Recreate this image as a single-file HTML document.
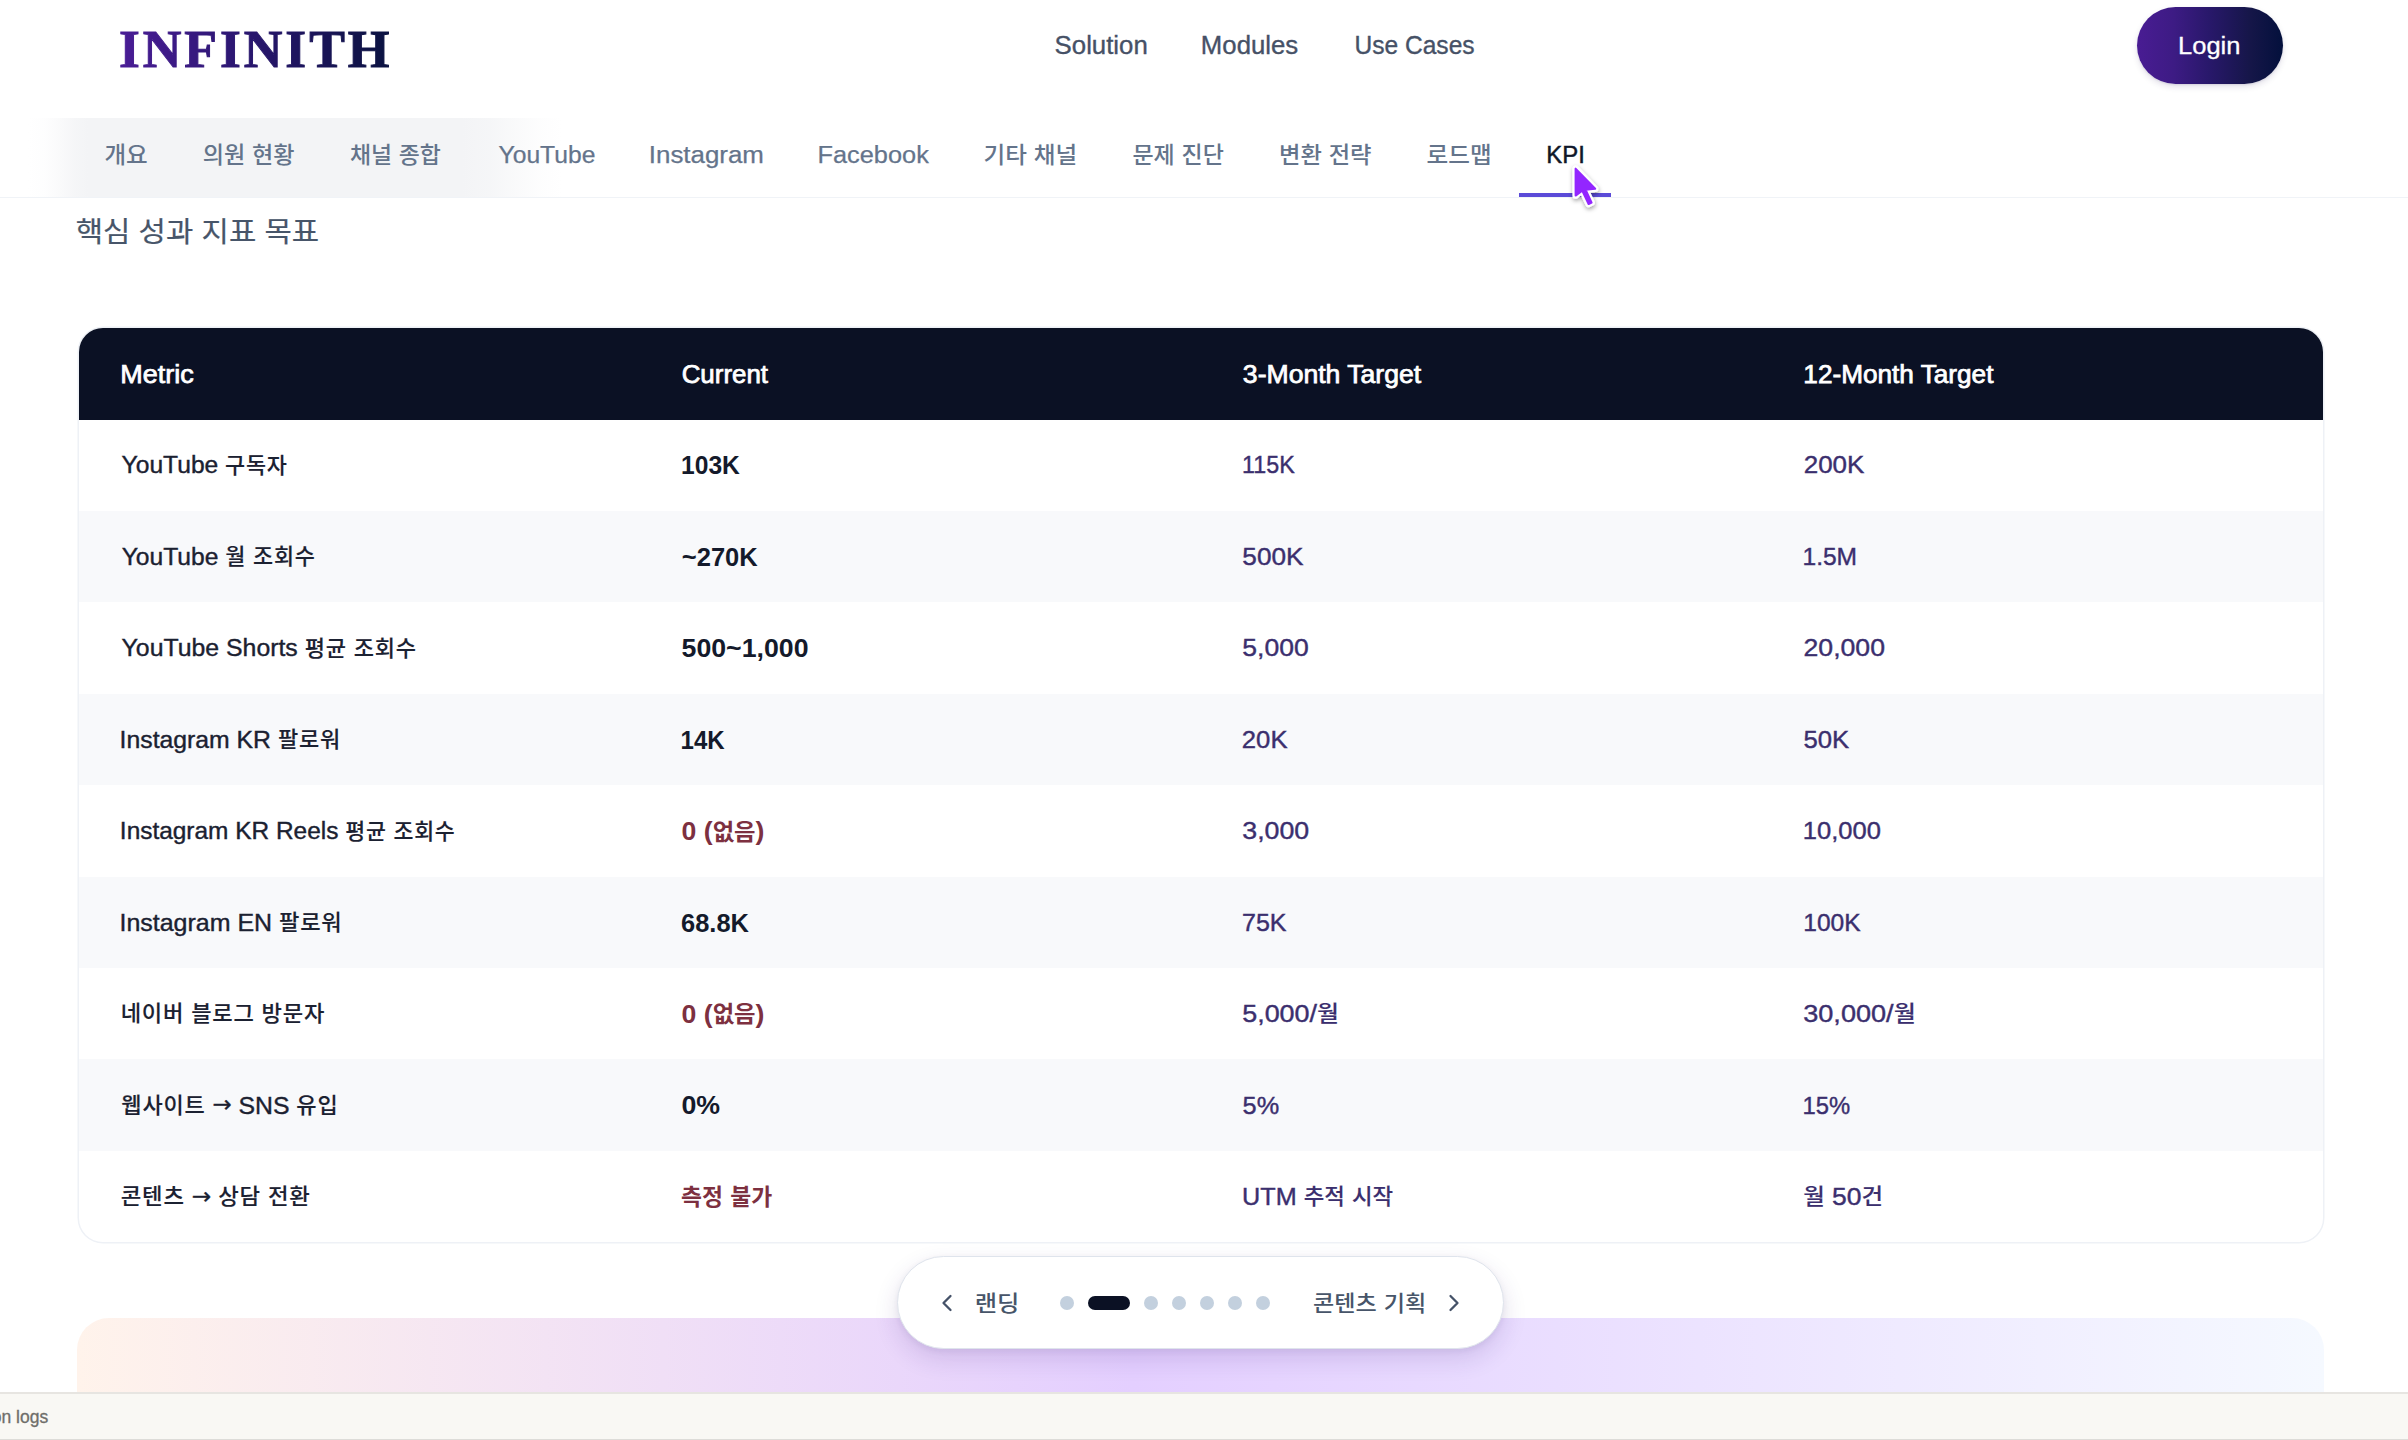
<!DOCTYPE html>
<html lang="ko">
<head>
<meta charset="utf-8">
<title>INFINITH – KPI</title>
<style>
*{margin:0;padding:0;box-sizing:border-box}
html,body{width:2408px;height:1440px;overflow:hidden;background:#fff}
body{position:relative;font-family:"Liberation Sans","Noto Sans CJK KR",sans-serif;-webkit-font-smoothing:antialiased}
.t{position:absolute;white-space:nowrap;display:block;transform-origin:0 50%}
.abs{position:absolute;display:block}
.logo{background:linear-gradient(90deg,#4a1d96 0%,#2a1670 45%,#0a1240 100%);-webkit-background-clip:text;background-clip:text;color:transparent !important;-webkit-text-fill-color:transparent}
.login-btn{left:2136.5px;top:6.5px;width:146px;height:77.5px;border-radius:39px;background:linear-gradient(90deg,#491c93 0%,#3d1b84 25%,#28186a 50%,#151648 78%,#03103c 100%);box-shadow:0 3px 6px rgba(30,20,80,.12),0 1px 2px rgba(30,20,80,.10)}
.tab-hl{left:28px;top:117.5px;width:534px;height:79.5px;background:linear-gradient(90deg,rgba(243,244,246,0) 0.00%,rgba(243,244,246,0.12) 3.18%,rgba(243,244,246,0.45) 5.99%,rgba(243,244,246,0.82) 8.80%,rgba(243,244,246,1) 11.24%,rgba(243,244,246,1) 81.27%,rgba(243,244,246,0.82) 86.52%,rgba(243,244,246,0.48) 91.20%,rgba(243,244,246,0.16) 95.88%,rgba(243,244,246,0) 100.00%)}
.tab-line{left:0;top:197px;width:2408px;height:1px;background:#f0f3f7}
.tab-active{left:1519.2px;top:192.6px;width:92.3px;height:4px;background:#5b4bd8}
.table{left:78.5px;top:328px;width:2244.5px;height:914px;border-radius:24px;overflow:hidden;background:#fff;box-shadow:0 0 0 1.5px #eef1f6}
.thead{left:0;top:0;width:100%;height:91.5px;background:#0b1124}
.stripe{left:0;width:100%;height:91.44px;background:#f8f9fb}
.gcard{left:77px;top:1317.5px;width:2247px;height:300px;border-radius:32px;background:linear-gradient(90deg,#fff3eb 0%,#e4cfff 47%,#f5f9ff 100%)}
.pill{left:897px;top:1256px;width:606.5px;height:93px;border-radius:47px;background:#fff;border:1.5px solid #dfe4ec;box-shadow:0 10px 24px rgba(60,30,120,.14),0 2px 6px rgba(30,30,60,.06)}
.dot{width:14px;height:14px;border-radius:7px;background:#c3d0de;top:1296px}
.dot.on{width:42px;background:#0b1124}
.bbar{left:0;top:1391.6px;width:2408px;height:48.4px;background:#f9f8f4;border-top:2px solid #e7e5e1;border-bottom:1.8px solid #dddcd8}
.arw{font-family:"DejaVu Sans","Liberation Sans",sans-serif;line-height:0;font-size:.92em;position:relative;top:-1.2px}
.grp{display:block;position:static;margin:0;padding:0;border:0;width:0;height:0}
a.t{text-decoration:none}
h2.t{margin:0}
</style>
</head>
<body>
<div class="abs login-btn"></div>
<div class="abs tab-hl"></div>
<div class="abs tab-line"></div>
<div class="abs tab-active"></div>
<div class="abs table">
<div class="abs thead"></div>
<div class="abs stripe" style="top:182.7px"></div>
<div class="abs stripe" style="top:365.6px"></div>
<div class="abs stripe" style="top:548.5px"></div>
<div class="abs stripe" style="top:731.4px"></div>
</div>
<div class="abs gcard"></div>
<div class="abs pill"></div>
<div class="abs dot" style="left:1060px"></div>
<div class="abs dot on" style="left:1088px"></div>
<div class="abs dot" style="left:1144px"></div>
<div class="abs dot" style="left:1172px"></div>
<div class="abs dot" style="left:1200px"></div>
<div class="abs dot" style="left:1228px"></div>
<div class="abs dot" style="left:1256px"></div>
<svg class="abs" style="left:937.35px;top:1290.9px" width="20" height="24" viewBox="0 0 20 24"><path d="M13.5 5 L6.5 12 L13.5 19" fill="none" stroke="#455268" stroke-width="2.3" stroke-linecap="round" stroke-linejoin="round"/></svg>
<svg class="abs" style="left:1444px;top:1290.9px" width="20" height="24" viewBox="0 0 20 24"><path d="M6.5 5 L13.5 12 L6.5 19" fill="none" stroke="#455268" stroke-width="2.3" stroke-linecap="round" stroke-linejoin="round"/></svg>
<div class="abs bbar"></div>
<header class="grp">
<a class="t logo" id="logo" style='left:118.89px;top:11.71px;font-size:53.5px;line-height:74.9px;font-weight:700;color:#3b1a8a;letter-spacing:2.978px;font-family:"Liberation Serif","Noto Serif CJK KR",serif;-webkit-text-stroke:1.0px transparent;'>INFINITH</a>
<nav class="grp">
<a class="t" id="nav1" style='left:1054.00px;top:28.02px;font-size:25.3px;line-height:35.42px;font-weight:400;color:#465166;letter-spacing:0.000px;font-family:"Liberation Sans","Noto Sans CJK KR",sans-serif;-webkit-text-stroke:0.35px #465166;transform:translateX(0.61px) scaleX(1.0187);'>Solution</a>
<a class="t" id="nav2" style='left:1200.00px;top:28.02px;font-size:25.3px;line-height:35.42px;font-weight:400;color:#465166;letter-spacing:0.000px;font-family:"Liberation Sans","Noto Sans CJK KR",sans-serif;-webkit-text-stroke:0.35px #465166;transform:translateX(0.86px) scaleX(1.0179);'>Modules</a>
<a class="t" id="nav3" style='left:1354.00px;top:28.02px;font-size:25.3px;line-height:35.42px;font-weight:400;color:#465166;letter-spacing:0.000px;font-family:"Liberation Sans","Noto Sans CJK KR",sans-serif;-webkit-text-stroke:0.35px #465166;transform:translateX(0.49px) scaleX(0.9707);'>Use Cases</a>
</nav>
<span class="t" id="login" role="button" style='left:2178.00px;top:28.65px;font-size:24.8px;line-height:34.72px;font-weight:400;color:#ffffff;letter-spacing:0.000px;font-family:"Liberation Sans","Noto Sans CJK KR",sans-serif;-webkit-text-stroke:0.3px #ffffff;transform:translateX(0.06px) scaleX(1.0284);'>Login</span>
</header>
<nav class="grp" role="tablist">
<a class="t" id="tab0" role="tab" style='left:104.00px;top:138.71px;font-size:23.5px;line-height:32.9px;font-weight:400;color:#64748b;letter-spacing:0.000px;font-family:"Liberation Sans","Noto Sans CJK KR",sans-serif;-webkit-text-stroke:0.25px #64748b;transform:translateX(0.40px) scaleX(1.0509);'><span style="font-size:22.4px;line-height:0;font-weight:500;-webkit-text-stroke-width:0px;position:relative;top:0.1px;">개요</span></a>
<a class="t" id="tab1" role="tab" style='left:202.00px;top:138.71px;font-size:23.5px;line-height:32.9px;font-weight:400;color:#64748b;letter-spacing:0.000px;font-family:"Liberation Sans","Noto Sans CJK KR",sans-serif;-webkit-text-stroke:0.25px #64748b;transform:translateX(0.64px) scaleX(1.0334);'><span style="font-size:22.4px;line-height:0;font-weight:500;-webkit-text-stroke-width:0px;position:relative;top:0.1px;">의원</span> <span style="font-size:22.4px;line-height:0;font-weight:500;-webkit-text-stroke-width:0px;position:relative;top:0.1px;">현황</span></a>
<a class="t" id="tab2" role="tab" style='left:349.00px;top:138.71px;font-size:23.5px;line-height:32.9px;font-weight:400;color:#64748b;letter-spacing:0.000px;font-family:"Liberation Sans","Noto Sans CJK KR",sans-serif;-webkit-text-stroke:0.25px #64748b;transform:translateX(0.93px) scaleX(1.0225);'><span style="font-size:22.4px;line-height:0;font-weight:500;-webkit-text-stroke-width:0px;position:relative;top:0.1px;">채널</span> <span style="font-size:22.4px;line-height:0;font-weight:500;-webkit-text-stroke-width:0px;position:relative;top:0.1px;">종합</span></a>
<a class="t" id="tab3" role="tab" style='left:498.00px;top:138.71px;font-size:23.5px;line-height:32.9px;font-weight:400;color:#64748b;letter-spacing:0.000px;font-family:"Liberation Sans","Noto Sans CJK KR",sans-serif;-webkit-text-stroke:0.25px #64748b;transform:translateX(0.49px) scaleX(1.0493);'>YouTube</a>
<a class="t" id="tab4" role="tab" style='left:648.00px;top:138.71px;font-size:23.5px;line-height:32.9px;font-weight:400;color:#64748b;letter-spacing:0.000px;font-family:"Liberation Sans","Noto Sans CJK KR",sans-serif;-webkit-text-stroke:0.25px #64748b;transform:translateX(0.80px) scaleX(1.1020);'>Instagram</a>
<a class="t" id="tab5" role="tab" style='left:817.00px;top:138.71px;font-size:23.5px;line-height:32.9px;font-weight:400;color:#64748b;letter-spacing:0.000px;font-family:"Liberation Sans","Noto Sans CJK KR",sans-serif;-webkit-text-stroke:0.25px #64748b;transform:translateX(0.53px) scaleX(1.0783);'>Facebook</a>
<a class="t" id="tab6" role="tab" style='left:983.00px;top:138.71px;font-size:23.5px;line-height:32.9px;font-weight:400;color:#64748b;letter-spacing:0.000px;font-family:"Liberation Sans","Noto Sans CJK KR",sans-serif;-webkit-text-stroke:0.25px #64748b;transform:translateX(0.55px) scaleX(1.0530);'><span style="font-size:22.4px;line-height:0;font-weight:500;-webkit-text-stroke-width:0px;position:relative;top:0.1px;">기타</span> <span style="font-size:22.4px;line-height:0;font-weight:500;-webkit-text-stroke-width:0px;position:relative;top:0.1px;">채널</span></a>
<a class="t" id="tab7" role="tab" style='left:1132.00px;top:138.71px;font-size:23.5px;line-height:32.9px;font-weight:400;color:#64748b;letter-spacing:0.000px;font-family:"Liberation Sans","Noto Sans CJK KR",sans-serif;-webkit-text-stroke:0.25px #64748b;transform:translateX(0.46px) scaleX(1.0269);'><span style="font-size:22.4px;line-height:0;font-weight:500;-webkit-text-stroke-width:0px;position:relative;top:0.1px;">문제</span> <span style="font-size:22.4px;line-height:0;font-weight:500;-webkit-text-stroke-width:0px;position:relative;top:0.1px;">진단</span></a>
<a class="t" id="tab8" role="tab" style='left:1279.00px;top:138.71px;font-size:23.5px;line-height:32.9px;font-weight:400;color:#64748b;letter-spacing:0.000px;font-family:"Liberation Sans","Noto Sans CJK KR",sans-serif;-webkit-text-stroke:0.25px #64748b;transform:translateX(0.01px) scaleX(1.0403);'><span style="font-size:22.4px;line-height:0;font-weight:500;-webkit-text-stroke-width:0px;position:relative;top:0.1px;">변환</span> <span style="font-size:22.4px;line-height:0;font-weight:500;-webkit-text-stroke-width:0px;position:relative;top:0.1px;">전략</span></a>
<a class="t" id="tab9" role="tab" style='left:1426.00px;top:138.71px;font-size:23.5px;line-height:32.9px;font-weight:400;color:#64748b;letter-spacing:0.000px;font-family:"Liberation Sans","Noto Sans CJK KR",sans-serif;-webkit-text-stroke:0.25px #64748b;transform:translateX(0.61px) scaleX(1.0523);'><span style="font-size:22.4px;line-height:0;font-weight:500;-webkit-text-stroke-width:0px;position:relative;top:0.1px;">로드맵</span></a>
<a class="t" id="tabk" role="tab" aria-selected="true" style='left:1546.00px;top:138.71px;font-size:23.5px;line-height:32.9px;font-weight:400;color:#0f172a;letter-spacing:0.000px;font-family:"Liberation Sans","Noto Sans CJK KR",sans-serif;-webkit-text-stroke:0.45px #0f172a;transform:translateX(0.31px) scaleX(1.0176);'>KPI</a>
</nav>
<main class="grp">
<h2 class="t" id="title" style='left:75.00px;top:212.49px;font-size:28.2px;line-height:39.48px;font-weight:400;color:#475569;letter-spacing:0.000px;font-family:"Liberation Sans","Noto Sans CJK KR",sans-serif;-webkit-text-stroke:0.2px #475569;transform:translateX(0.66px) scaleX(1.0541);'><span style="font-size:28.2px;line-height:0;position:relative;top:0.6px;">핵심</span> <span style="font-size:28.2px;line-height:0;position:relative;top:0.6px;">성과</span> <span style="font-size:28.2px;line-height:0;position:relative;top:0.6px;">지표</span> <span style="font-size:28.2px;line-height:0;position:relative;top:0.6px;">목표</span></h2>
<div class="grp" role="table">
<div class="grp" role="row">
<span class="t" id="h0" role="columnheader" style='left:120.00px;top:356.63px;font-size:25.2px;line-height:35.28px;font-weight:400;color:#ffffff;letter-spacing:0.000px;font-family:"Liberation Sans","Noto Sans CJK KR",sans-serif;-webkit-text-stroke:0.75px #ffffff;transform:translateX(0.28px) scaleX(1.0713);'>Metric</span>
<span class="t" id="h1" role="columnheader" style='left:681.00px;top:356.63px;font-size:25.2px;line-height:35.28px;font-weight:400;color:#ffffff;letter-spacing:0.000px;font-family:"Liberation Sans","Noto Sans CJK KR",sans-serif;-webkit-text-stroke:0.75px #ffffff;transform:translateX(0.65px) scaleX(1.0285);'>Current</span>
<span class="t" id="h2" role="columnheader" style='left:1242.00px;top:356.63px;font-size:25.2px;line-height:35.28px;font-weight:400;color:#ffffff;letter-spacing:0.000px;font-family:"Liberation Sans","Noto Sans CJK KR",sans-serif;-webkit-text-stroke:0.75px #ffffff;transform:translateX(0.85px) scaleX(1.0556);'>3-Month Target</span>
<span class="t" id="h3" role="columnheader" style='left:1803.00px;top:356.63px;font-size:25.2px;line-height:35.28px;font-weight:400;color:#ffffff;letter-spacing:0.000px;font-family:"Liberation Sans","Noto Sans CJK KR",sans-serif;-webkit-text-stroke:0.75px #ffffff;transform:translateX(0.34px) scaleX(1.0389);'>12-Month Target</span>
</div>
<div class="grp" role="row">
<span class="t" id="r0c0" role="cell" style='left:121.00px;top:448.45px;font-size:24.8px;line-height:34.72px;font-weight:400;color:#1b2131;letter-spacing:0.000px;font-family:"Liberation Sans","Noto Sans CJK KR",sans-serif;-webkit-text-stroke:0.4px #1b2131;transform:translateX(0.61px) scaleX(0.9919);'>YouTube <span style="font-size:22.0px;line-height:0;letter-spacing:0.8px;font-weight:500;-webkit-text-stroke-width:0.12px;position:relative;top:-0.6px;">구독자</span></span>
<span class="t" id="r0c1" role="cell" style='left:681.00px;top:447.40px;font-size:25.8px;line-height:36.12px;font-weight:700;color:#141a2b;letter-spacing:0.000px;font-family:"Liberation Sans","Noto Sans CJK KR",sans-serif;transform:translateX(0.03px) scaleX(0.9541);'>103K</span>
<span class="t" id="r0c2" role="cell" style='left:1242.00px;top:448.45px;font-size:24.8px;line-height:34.72px;font-weight:400;color:#3b2f6e;letter-spacing:0.000px;font-family:"Liberation Sans","Noto Sans CJK KR",sans-serif;-webkit-text-stroke:0.4px #3b2f6e;transform:translateX(0.07px) scaleX(0.9382);'>115K</span>
<span class="t" id="r0c3" role="cell" style='left:1803.00px;top:448.45px;font-size:24.8px;line-height:34.72px;font-weight:400;color:#3b2f6e;letter-spacing:0.000px;font-family:"Liberation Sans","Noto Sans CJK KR",sans-serif;-webkit-text-stroke:0.4px #3b2f6e;transform:translateX(0.73px) scaleX(1.0472);'>200K</span>
</div>
<div class="grp" role="row">
<span class="t" id="r1c0" role="cell" style='left:121.00px;top:539.89px;font-size:24.8px;line-height:34.72px;font-weight:400;color:#1b2131;letter-spacing:0.000px;font-family:"Liberation Sans","Noto Sans CJK KR",sans-serif;-webkit-text-stroke:0.4px #1b2131;transform:translateX(0.63px) scaleX(0.9933);'>YouTube <span style="font-size:22.0px;line-height:0;letter-spacing:0.8px;font-weight:500;-webkit-text-stroke-width:0.12px;position:relative;top:-0.6px;">월</span> <span style="font-size:22.0px;line-height:0;letter-spacing:0.8px;font-weight:500;-webkit-text-stroke-width:0.12px;position:relative;top:-0.6px;">조회수</span></span>
<span class="t" id="r1c1" role="cell" style='left:681.00px;top:538.84px;font-size:25.8px;line-height:36.12px;font-weight:700;color:#141a2b;letter-spacing:0.000px;font-family:"Liberation Sans","Noto Sans CJK KR",sans-serif;transform:translateX(0.74px) scaleX(0.9907);'>~270K</span>
<span class="t" id="r1c2" role="cell" style='left:1242.00px;top:539.89px;font-size:24.8px;line-height:34.72px;font-weight:400;color:#3b2f6e;letter-spacing:0.000px;font-family:"Liberation Sans","Noto Sans CJK KR",sans-serif;-webkit-text-stroke:0.4px #3b2f6e;transform:translateX(0.37px) scaleX(1.0556);'>500K</span>
<span class="t" id="r1c3" role="cell" style='left:1802.00px;top:539.89px;font-size:24.8px;line-height:34.72px;font-weight:400;color:#3b2f6e;letter-spacing:0.000px;font-family:"Liberation Sans","Noto Sans CJK KR",sans-serif;-webkit-text-stroke:0.4px #3b2f6e;transform:translateX(0.46px) scaleX(0.9911);'>1.5M</span>
</div>
<div class="grp" role="row">
<span class="t" id="r2c0" role="cell" style='left:121.00px;top:631.33px;font-size:24.8px;line-height:34.72px;font-weight:400;color:#1b2131;letter-spacing:0.000px;font-family:"Liberation Sans","Noto Sans CJK KR",sans-serif;-webkit-text-stroke:0.4px #1b2131;transform:translateX(0.59px) scaleX(1.0010);'>YouTube Shorts <span style="font-size:22.0px;line-height:0;letter-spacing:0.8px;font-weight:500;-webkit-text-stroke-width:0.12px;position:relative;top:-0.6px;">평균</span> <span style="font-size:22.0px;line-height:0;letter-spacing:0.8px;font-weight:500;-webkit-text-stroke-width:0.12px;position:relative;top:-0.6px;">조회수</span></span>
<span class="t" id="r2c1" role="cell" style='left:681.00px;top:630.28px;font-size:25.8px;line-height:36.12px;font-weight:700;color:#141a2b;letter-spacing:0.000px;font-family:"Liberation Sans","Noto Sans CJK KR",sans-serif;transform:translateX(0.53px) scaleX(1.0352);'>500~1,000</span>
<span class="t" id="r2c2" role="cell" style='left:1242.00px;top:631.33px;font-size:24.8px;line-height:34.72px;font-weight:400;color:#3b2f6e;letter-spacing:0.000px;font-family:"Liberation Sans","Noto Sans CJK KR",sans-serif;-webkit-text-stroke:0.4px #3b2f6e;transform:translateX(0.30px) scaleX(1.0694);'>5,000</span>
<span class="t" id="r2c3" role="cell" style='left:1803.00px;top:631.33px;font-size:24.8px;line-height:34.72px;font-weight:400;color:#3b2f6e;letter-spacing:0.000px;font-family:"Liberation Sans","Noto Sans CJK KR",sans-serif;-webkit-text-stroke:0.4px #3b2f6e;transform:translateX(0.56px) scaleX(1.0731);'>20,000</span>
</div>
<div class="grp" role="row">
<span class="t" id="r3c0" role="cell" style='left:119.00px;top:722.77px;font-size:24.8px;line-height:34.72px;font-weight:400;color:#1b2131;letter-spacing:0.000px;font-family:"Liberation Sans","Noto Sans CJK KR",sans-serif;-webkit-text-stroke:0.4px #1b2131;transform:translateX(0.60px) scaleX(0.9988);'>Instagram KR <span style="font-size:22.0px;line-height:0;letter-spacing:0.8px;font-weight:500;-webkit-text-stroke-width:0.12px;position:relative;top:-0.6px;">팔로워</span></span>
<span class="t" id="r3c1" role="cell" style='left:680.00px;top:721.72px;font-size:25.8px;line-height:36.12px;font-weight:700;color:#141a2b;letter-spacing:0.000px;font-family:"Liberation Sans","Noto Sans CJK KR",sans-serif;transform:translateX(0.52px) scaleX(0.9331);'>14K</span>
<span class="t" id="r3c2" role="cell" style='left:1241.00px;top:722.77px;font-size:24.8px;line-height:34.72px;font-weight:400;color:#3b2f6e;letter-spacing:0.000px;font-family:"Liberation Sans","Noto Sans CJK KR",sans-serif;-webkit-text-stroke:0.4px #3b2f6e;transform:translateX(0.85px) scaleX(1.0345);'>20K</span>
<span class="t" id="r3c3" role="cell" style='left:1803.00px;top:722.77px;font-size:24.8px;line-height:34.72px;font-weight:400;color:#3b2f6e;letter-spacing:0.000px;font-family:"Liberation Sans","Noto Sans CJK KR",sans-serif;-webkit-text-stroke:0.4px #3b2f6e;transform:translateX(0.50px) scaleX(1.0363);'>50K</span>
</div>
<div class="grp" role="row">
<span class="t" id="r4c0" role="cell" style='left:119.00px;top:814.21px;font-size:24.8px;line-height:34.72px;font-weight:400;color:#1b2131;letter-spacing:0.000px;font-family:"Liberation Sans","Noto Sans CJK KR",sans-serif;-webkit-text-stroke:0.4px #1b2131;transform:translateX(0.84px) scaleX(0.9849);'>Instagram KR Reels <span style="font-size:22.0px;line-height:0;letter-spacing:0.8px;font-weight:500;-webkit-text-stroke-width:0.12px;position:relative;top:-0.6px;">평균</span> <span style="font-size:22.0px;line-height:0;letter-spacing:0.8px;font-weight:500;-webkit-text-stroke-width:0.12px;position:relative;top:-0.6px;">조회수</span></span>
<span class="t" id="r4c1" role="cell" style='left:681.00px;top:813.16px;font-size:25.8px;line-height:36.12px;font-weight:700;color:#7d3040;letter-spacing:0.000px;font-family:"Liberation Sans","Noto Sans CJK KR",sans-serif;transform:translateX(0.57px) scaleX(1.0318);'>0 (<span style="font-size:22.6px;line-height:0;position:relative;top:-0.6px;">없음</span>)</span>
<span class="t" id="r4c2" role="cell" style='left:1242.00px;top:814.21px;font-size:24.8px;line-height:34.72px;font-weight:400;color:#3b2f6e;letter-spacing:0.000px;font-family:"Liberation Sans","Noto Sans CJK KR",sans-serif;-webkit-text-stroke:0.4px #3b2f6e;transform:translateX(0.32px) scaleX(1.0779);'>3,000</span>
<span class="t" id="r4c3" role="cell" style='left:1802.00px;top:814.21px;font-size:24.8px;line-height:34.72px;font-weight:400;color:#3b2f6e;letter-spacing:0.000px;font-family:"Liberation Sans","Noto Sans CJK KR",sans-serif;-webkit-text-stroke:0.4px #3b2f6e;transform:translateX(0.81px) scaleX(1.0296);'>10,000</span>
</div>
<div class="grp" role="row">
<span class="t" id="r5c0" role="cell" style='left:119.00px;top:905.65px;font-size:24.8px;line-height:34.72px;font-weight:400;color:#1b2131;letter-spacing:0.000px;font-family:"Liberation Sans","Noto Sans CJK KR",sans-serif;-webkit-text-stroke:0.4px #1b2131;transform:translateX(0.49px) scaleX(1.0064);'>Instagram EN <span style="font-size:22.0px;line-height:0;letter-spacing:0.8px;font-weight:500;-webkit-text-stroke-width:0.12px;position:relative;top:-0.6px;">팔로워</span></span>
<span class="t" id="r5c1" role="cell" style='left:681.00px;top:904.60px;font-size:25.8px;line-height:36.12px;font-weight:700;color:#141a2b;letter-spacing:0.000px;font-family:"Liberation Sans","Noto Sans CJK KR",sans-serif;transform:translateX(0.02px) scaleX(0.9866);'>68.8K</span>
<span class="t" id="r5c2" role="cell" style='left:1241.00px;top:905.65px;font-size:24.8px;line-height:34.72px;font-weight:400;color:#3b2f6e;letter-spacing:0.000px;font-family:"Liberation Sans","Noto Sans CJK KR",sans-serif;-webkit-text-stroke:0.4px #3b2f6e;transform:translateX(0.99px) scaleX(1.0090);'>75K</span>
<span class="t" id="r5c3" role="cell" style='left:1803.00px;top:905.65px;font-size:24.8px;line-height:34.72px;font-weight:400;color:#3b2f6e;letter-spacing:0.000px;font-family:"Liberation Sans","Noto Sans CJK KR",sans-serif;-webkit-text-stroke:0.4px #3b2f6e;transform:translateX(0.29px) scaleX(0.9906);'>100K</span>
</div>
<div class="grp" role="row">
<span class="t" id="r6c0" role="cell" style='left:120.00px;top:997.09px;font-size:24.8px;line-height:34.72px;font-weight:400;color:#1b2131;letter-spacing:0.000px;font-family:"Liberation Sans","Noto Sans CJK KR",sans-serif;-webkit-text-stroke:0.4px #1b2131;transform:translateX(0.65px) scaleX(1.0066);'><span style="font-size:22.0px;line-height:0;letter-spacing:0.8px;font-weight:500;-webkit-text-stroke-width:0.12px;position:relative;top:-0.6px;">네이버</span> <span style="font-size:22.0px;line-height:0;letter-spacing:0.8px;font-weight:500;-webkit-text-stroke-width:0.12px;position:relative;top:-0.6px;">블로그</span> <span style="font-size:22.0px;line-height:0;letter-spacing:0.8px;font-weight:500;-webkit-text-stroke-width:0.12px;position:relative;top:-0.6px;">방문자</span></span>
<span class="t" id="r6c1" role="cell" style='left:681.00px;top:996.04px;font-size:25.8px;line-height:36.12px;font-weight:700;color:#7d3040;letter-spacing:0.000px;font-family:"Liberation Sans","Noto Sans CJK KR",sans-serif;transform:translateX(0.53px) scaleX(1.0329);'>0 (<span style="font-size:22.6px;line-height:0;position:relative;top:-0.6px;">없음</span>)</span>
<span class="t" id="r6c2" role="cell" style='left:1242.00px;top:997.09px;font-size:24.8px;line-height:34.72px;font-weight:400;color:#3b2f6e;letter-spacing:0.000px;font-family:"Liberation Sans","Noto Sans CJK KR",sans-serif;-webkit-text-stroke:0.4px #3b2f6e;transform:translateX(0.20px) scaleX(1.0854);'>5,000/<span style="font-size:22.0px;line-height:0;font-weight:500;-webkit-text-stroke-width:0.12px;position:relative;top:-0.6px;">월</span></span>
<span class="t" id="r6c3" role="cell" style='left:1803.00px;top:997.09px;font-size:24.8px;line-height:34.72px;font-weight:400;color:#3b2f6e;letter-spacing:0.000px;font-family:"Liberation Sans","Noto Sans CJK KR",sans-serif;-webkit-text-stroke:0.4px #3b2f6e;transform:translateX(0.23px) scaleX(1.0929);'>30,000/<span style="font-size:22.0px;line-height:0;font-weight:500;-webkit-text-stroke-width:0.12px;position:relative;top:-0.6px;">월</span></span>
</div>
<div class="grp" role="row">
<span class="t" id="r7c0" role="cell" style='left:121.00px;top:1088.53px;font-size:24.8px;line-height:34.72px;font-weight:400;color:#1b2131;letter-spacing:0.000px;font-family:"Liberation Sans","Noto Sans CJK KR",sans-serif;-webkit-text-stroke:0.4px #1b2131;transform:translateX(0.33px) scaleX(1.0004);'><span style="font-size:22.0px;line-height:0;letter-spacing:0.8px;font-weight:500;-webkit-text-stroke-width:0.12px;position:relative;top:-0.6px;">웹사이트</span> <span class="arw">→</span> SNS <span style="font-size:22.0px;line-height:0;letter-spacing:0.8px;font-weight:500;-webkit-text-stroke-width:0.12px;position:relative;top:-0.6px;">유입</span></span>
<span class="t" id="r7c1" role="cell" style='left:681.00px;top:1087.48px;font-size:25.8px;line-height:36.12px;font-weight:700;color:#141a2b;letter-spacing:0.000px;font-family:"Liberation Sans","Noto Sans CJK KR",sans-serif;transform:translateX(0.49px) scaleX(1.0374);'>0%</span>
<span class="t" id="r7c2" role="cell" style='left:1242.00px;top:1088.53px;font-size:24.8px;line-height:34.72px;font-weight:400;color:#3b2f6e;letter-spacing:0.000px;font-family:"Liberation Sans","Noto Sans CJK KR",sans-serif;-webkit-text-stroke:0.4px #3b2f6e;transform:translateX(0.58px) scaleX(1.0200);'>5%</span>
<span class="t" id="r7c3" role="cell" style='left:1802.00px;top:1088.53px;font-size:24.8px;line-height:34.72px;font-weight:400;color:#3b2f6e;letter-spacing:0.000px;font-family:"Liberation Sans","Noto Sans CJK KR",sans-serif;-webkit-text-stroke:0.4px #3b2f6e;transform:translateX(0.57px) scaleX(0.9604);'>15%</span>
</div>
<div class="grp" role="row">
<span class="t" id="r8c0" role="cell" style='left:120.00px;top:1179.97px;font-size:24.8px;line-height:34.72px;font-weight:400;color:#1b2131;letter-spacing:0.000px;font-family:"Liberation Sans","Noto Sans CJK KR",sans-serif;-webkit-text-stroke:0.4px #1b2131;transform:translateX(0.75px) scaleX(1.0147);'><span style="font-size:22.0px;line-height:0;letter-spacing:0.8px;font-weight:500;-webkit-text-stroke-width:0.12px;position:relative;top:-0.6px;">콘텐츠</span> <span class="arw">→</span> <span style="font-size:22.0px;line-height:0;letter-spacing:0.8px;font-weight:500;-webkit-text-stroke-width:0.12px;position:relative;top:-0.6px;">상담</span> <span style="font-size:22.0px;line-height:0;letter-spacing:0.8px;font-weight:500;-webkit-text-stroke-width:0.12px;position:relative;top:-0.6px;">전환</span></span>
<span class="t" id="r8c1" role="cell" style='left:681.00px;top:1178.92px;font-size:25.8px;line-height:36.12px;font-weight:700;color:#7d3040;letter-spacing:0.000px;font-family:"Liberation Sans","Noto Sans CJK KR",sans-serif;transform:translateX(0.08px) scaleX(1.0091);'><span style="font-size:22.6px;line-height:0;position:relative;top:-0.6px;">측정</span> <span style="font-size:22.6px;line-height:0;position:relative;top:-0.6px;">불가</span></span>
<span class="t" id="r8c2" role="cell" style='left:1242.00px;top:1179.97px;font-size:24.8px;line-height:34.72px;font-weight:400;color:#3b2f6e;letter-spacing:0.000px;font-family:"Liberation Sans","Noto Sans CJK KR",sans-serif;-webkit-text-stroke:0.4px #3b2f6e;transform:translateX(0.12px) scaleX(1.0169);'>UTM <span style="font-size:22.0px;line-height:0;font-weight:500;-webkit-text-stroke-width:0.12px;position:relative;top:-0.6px;">추적</span> <span style="font-size:22.0px;line-height:0;font-weight:500;-webkit-text-stroke-width:0.12px;position:relative;top:-0.6px;">시작</span></span>
<span class="t" id="r8c3" role="cell" style='left:1803.00px;top:1179.97px;font-size:24.8px;line-height:34.72px;font-weight:400;color:#3b2f6e;letter-spacing:0.000px;font-family:"Liberation Sans","Noto Sans CJK KR",sans-serif;-webkit-text-stroke:0.4px #3b2f6e;transform:translateX(0.15px) scaleX(1.0674);'><span style="font-size:22.0px;line-height:0;font-weight:500;-webkit-text-stroke-width:0.12px;position:relative;top:-0.6px;">월</span> 50<span style="font-size:22.0px;line-height:0;font-weight:500;-webkit-text-stroke-width:0.12px;position:relative;top:-0.6px;">건</span></span>
</div>
</div>
<nav class="grp">
<a class="t" id="pl" style='left:974.00px;top:1286.41px;font-size:23.5px;line-height:32.9px;font-weight:400;color:#475569;letter-spacing:0.000px;font-family:"Liberation Sans","Noto Sans CJK KR",sans-serif;-webkit-text-stroke:0.25px #475569;transform:translateX(0.79px) scaleX(1.1452);'><span style="font-size:21.2px;line-height:0;font-weight:500;-webkit-text-stroke-width:0px;position:relative;top:0.6px;">랜딩</span></a>
<a class="t" id="pr" style='left:1312.00px;top:1286.41px;font-size:23.5px;line-height:32.9px;font-weight:400;color:#475569;letter-spacing:0.000px;font-family:"Liberation Sans","Noto Sans CJK KR",sans-serif;-webkit-text-stroke:0.25px #475569;transform:translateX(0.98px) scaleX(1.0885);'><span style="font-size:21.2px;line-height:0;font-weight:500;-webkit-text-stroke-width:0px;position:relative;top:0.6px;">콘텐츠</span> <span style="font-size:21.2px;line-height:0;font-weight:500;-webkit-text-stroke-width:0px;position:relative;top:0.6px;">기획</span></a>
</nav>
</main>
<footer class="grp">
<span class="t" id="logs" style='left:-8.28px;top:1404.69px;font-size:17.5px;line-height:24.5px;font-weight:400;color:#6f6e6a;letter-spacing:0.000px;font-family:"Liberation Sans","Noto Sans CJK KR",sans-serif;-webkit-text-stroke:0.3px #6f6e6a;'>on logs</span>
</footer>
<svg class="abs" style="left:1540px;top:140px;overflow:visible" width="100" height="100" viewBox="1540 140 100 100">
<defs><filter id="cs" x="-50%" y="-50%" width="200%" height="200%"><feDropShadow dx="0.5" dy="2" stdDeviation="2" flood-color="#000" flood-opacity=".38"/></filter></defs>
<g filter="url(#cs)">
<path d="M1575.6 168.6 L1575.6 195.6 L1582.2 190.6 L1588.6 204.0 L1591.6 202.6 L1585.6 189.7 L1595.2 188.8 Z" fill="#fff" stroke="#fff" stroke-width="6.4" stroke-linejoin="round"/>
<path d="M1575.6 168.6 L1575.6 195.6 L1582.2 190.6 L1588.6 204.0 L1591.6 202.6 L1585.6 189.7 L1595.2 188.8 Z" fill="#9327ff" stroke="#9327ff" stroke-width="2" stroke-linejoin="round"/>
</g>
</svg>
</body>
</html>
